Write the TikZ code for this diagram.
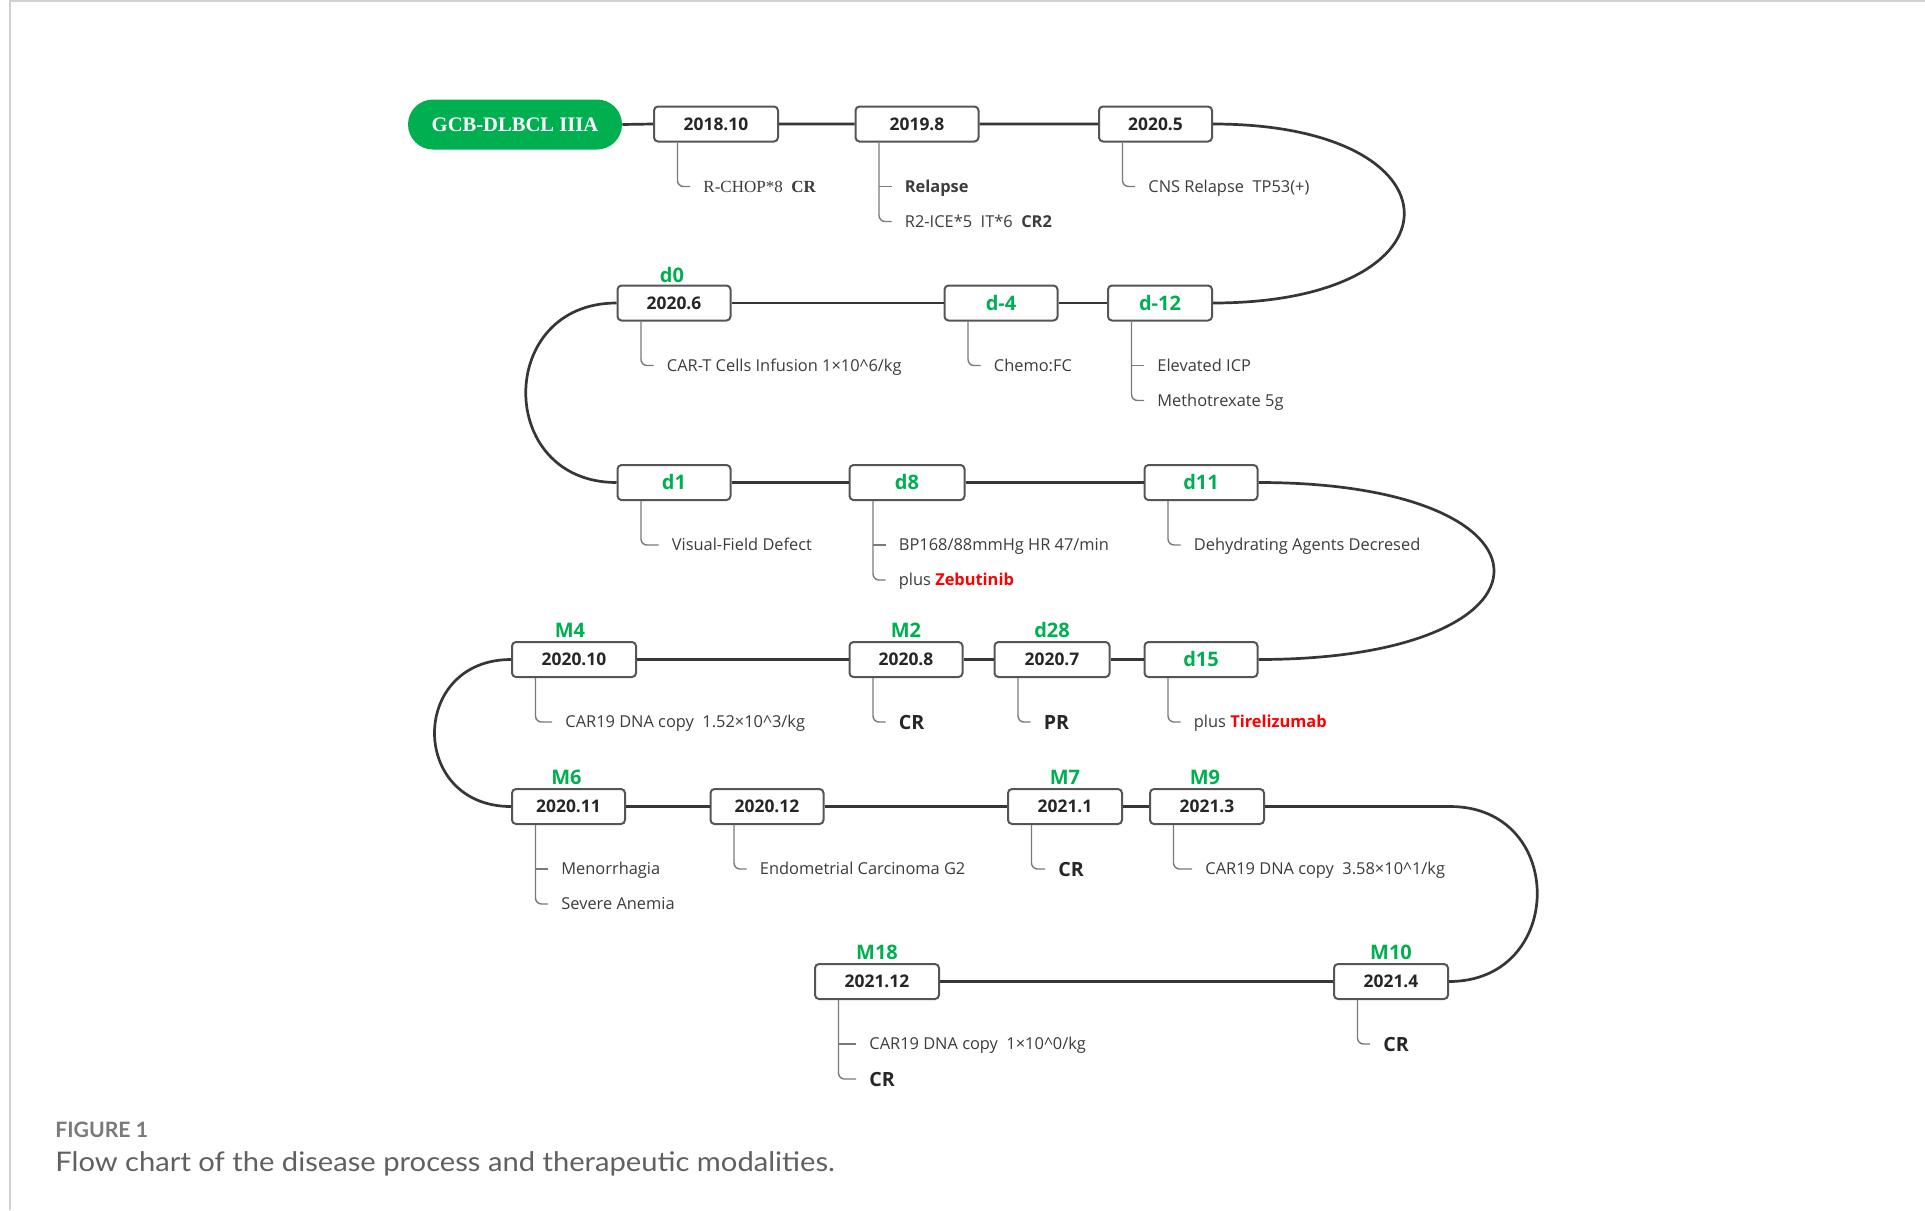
\documentclass[tikz,border=0pt]{standalone}
\usepackage{fontspec}
\setmainfont{Open Sans}
\newfontfamily\serifx{Liberation Serif}
\newfontfamily\capfont{Lato}
\usetikzlibrary{calc}
\definecolor{gr}{HTML}{00B050}
\definecolor{boxc}{HTML}{555555}
\definecolor{datec}{HTML}{262626}
\definecolor{labc}{HTML}{3C3C3C}
\definecolor{brkc}{HTML}{7A7A7A}
\definecolor{linec}{HTML}{363636}
\definecolor{framec}{HTML}{CDD2D4}
\definecolor{capa}{HTML}{7A7A7A}
\definecolor{capb}{HTML}{606060}
\definecolor{redx}{HTML}{FF0000}
% #1 style, #2 box, #3 name, #4 extra x, #5 text
\newcommand\onelab[5][lab]{%
  \node[#1] (#3) at ($(#2.south west)+(50+#4,44)$) {#5};
  \draw[brk] ($(#2.south west)+(24.5,0)$) |- ($(#3.west)+(-13,0)$);
}
% #1 style of 2nd, #2 box, #3 name1, #4 extra x, #5 text1, #6 name2, #7 text2
\newcommand\twolab[7][lab]{%
  \node[lab] (#3) at ($(#2.south west)+(50+#4,44)$) {#5};
  \node[#1] (#6) at ($(#2.south west)+(50+#4,79)$) {#7};
  \coordinate (#3v) at ($(#2.south west)+(24.5,0)$);
  \draw[brk] (#3v) |- ($(#6.west)+(-13,0)$);
  \draw[brk] (#3v |- #3.west) -- ($(#3.west)+(-13,0)$);
}
\begin{document}
\begin{tikzpicture}[x=0.5pt,y=-0.5pt,
  box/.style={draw=boxc, line width=1pt, rounded corners=2pt, fill=white,
    minimum height=17.5pt, inner sep=0pt, text=datec,
    font=\fontsize{8.7}{10}\selectfont\bfseries, text height=6.2pt, text depth=0pt},
  gbox/.style={box, text=gr, font=\fontsize{10}{12}\selectfont\bfseries, text height=7.2pt},
  gl/.style={inner sep=0pt, text=gr, font=\fontsize{10}{12}\selectfont\bfseries,
    text height=7.2pt, text depth=0pt, anchor=south},
  lab/.style={inner sep=0pt, anchor=west, text=labc,
    font=\fontsize{8.2}{10}\selectfont, text height=5.9pt, text depth=0pt},
  slab/.style={lab, font=\serifx\fontsize{8.5}{10}\selectfont},
  blab/.style={lab, text=datec, font=\fontsize{9.8}{12}\selectfont\bfseries, text height=7pt},
  brk/.style={draw=brkc, line width=0.7pt, rounded corners=3pt},
  mainln/.style={draw=linec, line width=1.35pt},
  pill/.style={fill=gr, rounded corners=12.5pt, minimum width=107pt, minimum height=25pt,
    inner sep=0pt, text=white, font=\serifx\bfseries\fontsize{10.3}{12}\selectfont,
    text height=6.8pt, text depth=0pt}
]
\useasboundingbox (0,0) rectangle (1925,1210);
\fill[white] (0,0) rectangle (1925,1210);
\draw[draw=framec, line width=1pt] (10,1210) -- (10,1) -- (1925,1);

% nodes
\node[pill] (gcb) at (515,124.5) {GCB-DLBCL IIIA};
\node[box, minimum width=62pt] (a1) at (716,124) {2018.10};
\node[box, minimum width=61.5pt] (a2) at (917,124) {2019.8};
\node[box, minimum width=56.5pt] (a3) at (1155.5,124) {2020.5};

\node[box, minimum width=56.5pt] (b1) at (674,303) {2020.6};
\node[gbox, minimum width=56.5pt] (b2) at (1001,303) {d-4};
\node[gbox, minimum width=52pt] (b3) at (1160,303) {d-12};

\node[gbox, minimum width=56.5pt] (c1) at (674,482.5) {d1};
\node[gbox, minimum width=57.5pt] (c2) at (907,482.5) {d8};
\node[gbox, minimum width=56.5pt] (c3) at (1201,482.5) {d11};

\node[box, minimum width=62pt] (e1) at (574,659.5) {2020.10};
\node[box, minimum width=56.5pt] (e2) at (906,659.5) {2020.8};
\node[box, minimum width=57.5pt] (e3) at (1052,659.5) {2020.7};
\node[gbox, minimum width=56.5pt] (e4) at (1201,659.5) {d15};

\node[box, minimum width=56.5pt] (f1) at (568.5,806.5) {2020.11};
\node[box, minimum width=56.5pt] (f2) at (767,806.5) {2020.12};
\node[box, minimum width=57pt] (f3) at (1065,806.5) {2021.1};
\node[box, minimum width=57pt] (f4) at (1207,806.5) {2021.3};

\node[box, minimum width=62pt] (g1) at (877,981.5) {2021.12};
\node[box, minimum width=57pt] (g2) at (1391,981.5) {2021.4};

% green labels above boxes
\node[gl] (t0) at ($(b1.north)+(-2,-2)$) {d0};
\node[gl] (t1) at ($(e1.north)+(-4,-3)$) {M4};
\node[gl] (t2) at ($(e2.north)+(0,-3)$) {M2};
\node[gl] (t3) at ($(e3.north)+(0,-3)$) {d28};
\node[gl] (t4) at ($(f1.north)+(-2,-3)$) {M6};
\node[gl] (t5) at ($(f3.north)+(0,-3)$) {M7};
\node[gl] (t6) at ($(f4.north)+(-2,-3)$) {M9};
\node[gl] (t7) at ($(g1.north)+(0,-3)$) {M18};
\node[gl] (t8) at ($(g2.north)+(0,-3)$) {M10};

% main line
\draw[mainln] (gcb.east) -- (a1.west) (a1.east) -- (a2.west) (a2.east) -- (a3.west);
\draw[mainln] (a3.east) .. controls +(255,0) and +(255,0) .. (b3.east);
\draw[mainln] (b3.west) -- (b2.east) (b2.west) -- (b1.east);
\draw[mainln] (b1.west) .. controls +(-121,0) and +(-121,0) .. (c1.west);
\draw[mainln] (c1.east) -- (c2.west) (c2.east) -- (c3.west);
\draw[mainln] (c3.east) .. controls +(314,0) and +(314,0) .. (e4.east);
\draw[mainln] (e4.west) -- (e3.east) (e3.west) -- (e2.east) (e2.west) -- (e1.east);
\draw[mainln] (e1.west) .. controls +(-102,0) and +(-102,0) .. (f1.west);
\draw[mainln] (f1.east) -- (f2.west) (f2.east) -- (f3.west) (f3.east) -- (f4.west);
\coordinate (k) at (1450,806.5);
\draw[mainln] (f4.east) -- (k) .. controls +(117,0) and +(117,0) .. (g2.east);
\draw[mainln] (g2.west) -- (g1.east);

% labels
\onelab[slab]{a1}{la1}{0}{R-CHOP*8\ \ {\bfseries CR}}
\twolab{a2}{la2}{0}{{\bfseries Relapse}}{lb2}{R2-ICE*5\ \ IT*6\ \ {\bfseries CR2}}
\onelab{a3}{la3}{0}{CNS Relapse\ \ TP53(+)}
\onelab{b1}{lb1x}{0}{CAR-T Cells Infusion 1×10\textasciicircum 6/kg}
\onelab{b2}{lb2x}{0}{Chemo:FC}
\twolab{b3}{lb3x}{0}{Elevated ICP}{lb3y}{Methotrexate 5g}
\onelab{c1}{lc1}{5}{Visual-Field Defect}
\twolab{c2}{lc2}{0}{BP168/88mmHg HR 47/min}{lc2y}{plus {\bfseries\color{redx}Zebutinib}}
\onelab{c3}{lc3}{0}{Dehydrating Agents Decresed}
\onelab{e1}{le1}{4}{CAR19 DNA copy\ \ 1.52×10\textasciicircum 3/kg}
\onelab[blab]{e2}{le2}{0}{CR}
\onelab[blab]{e3}{le3}{0}{PR}
\onelab{e4}{le4}{0}{plus {\bfseries\color{redx}Tirelizumab}}
\twolab{f1}{lf1}{0}{Menorrhagia}{lf1y}{Severe Anemia}
\onelab{f2}{lf2}{0}{Endometrial Carcinoma G2}
\onelab[blab]{f3}{lf3}{1}{CR}
\onelab{f4}{lf4}{6}{CAR19 DNA copy\ \ 3.58×10\textasciicircum 1/kg}
\twolab[blab]{g1}{lg1}{5}{CAR19 DNA copy\ \ 1×10\textasciicircum 0/kg}{lg1y}{CR}
\onelab[blab]{g2}{lg2}{0}{CR}

% caption
\node[anchor=base west, inner sep=0pt, text=capa,
  font=\capfont\bfseries\fontsize{10.6}{12}\selectfont] (fig) at (55,1137) {FIGURE 1};
\node[anchor=base west, inner sep=0pt, text=capb,
  font=\capfont\fontsize{13.5}{15}\selectfont] (cap) at (55,1171)
  {\scalebox{1.08}[1]{Flow chart of the disease process and therapeutic modalities.}};
\end{tikzpicture}
\end{document}
